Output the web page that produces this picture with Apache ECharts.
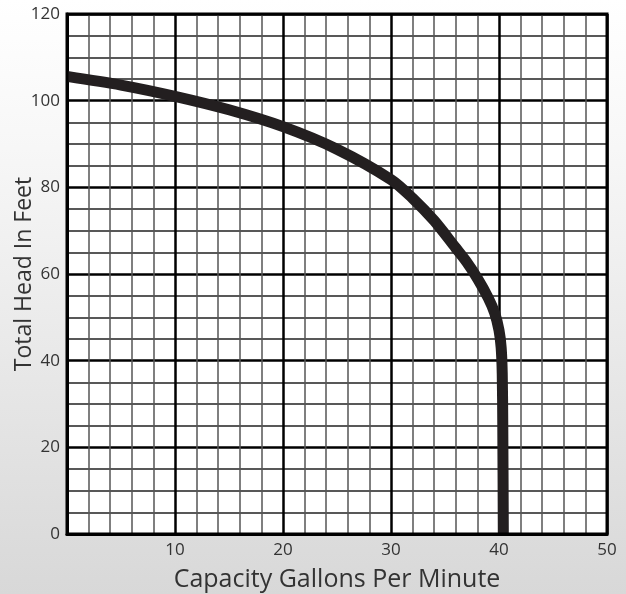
<!DOCTYPE html>
<html>
<head>
<meta charset="utf-8">
<script src="https://cdn.jsdelivr.net/npm/echarts@6/dist/echarts.min.js"></script>
<style>
html,body{margin:0;padding:0;}
#main{width:626px;height:594px;}
</style>
</head>
<body>
<div id="main"></div>
<script>
// pump curve
const flowGpm = [0, 5, 10, 15, 20, 25, 30, 32, 34, 36, 37, 38, 39, 39.6, 40, 40.2, 40.3, 40.35, 40.4];
const headFt  = [105.6, 103.6, 101, 97.9, 94, 88.8, 81.8, 77.5, 72.3, 66, 62.8, 59, 54.5, 51, 47, 43, 37, 25, 0];
const xTicks = [10, 20, 30, 40, 50];
const yTicks = [0, 20, 40, 60, 80, 100, 120];

const curve = flowGpm.map((x, i) => [x, headFt[i]]);

const myChart = echarts.init(document.getElementById('main'));
const labelFont = 'Open Sans';
const options = {
    animation: false,
    backgroundColor: new echarts.graphic.LinearGradient(0, 0, 0, 1, [
        {offset: 0, color: '#ffffff'},
        {offset: 0.25, color: '#f7f7f7'},
        {offset: 1, color: '#d8d8d8'}
    ]),
    grid: {
        left: 67, right: 19, top: 14, bottom: 60,
        outerBoundsMode: 'none',
        containLabel: false,
        show: true,
        backgroundColor: '#ffffff',
        borderWidth: 0
    },
    xAxis: {
        type: 'value',
        min: 0, max: 50, interval: 10,
        name: 'Capacity Gallons Per Minute',
        nameLocation: 'middle',
        nameGap: 33,
        nameMoveOverlap: false,
        nameTextStyle: {fontFamily: labelFont, fontSize: 25, color: '#333'},
        axisLine: {show: true, onZero: false, lineStyle: {color: '#000', width: 3}},
        axisTick: {show: false},
        axisLabel: {
            fontFamily: labelFont, fontSize: 17, color: '#333', margin: 8,
            formatter: v => xTicks.includes(v) ? String(v) : ''
        },
        splitLine: {show: true, lineStyle: {color: '#000', width: 2.5}},
        minorTick: {show: false, splitNumber: 5},
        minorSplitLine: {show: true, lineStyle: {color: '#555', width: 1.5}}
    },
    yAxis: {
        type: 'value',
        min: 0, max: 120, interval: 20,
        name: 'Total Head In Feet',
        nameLocation: 'middle',
        nameGap: 31,
        nameMoveOverlap: false,
        nameTextStyle: {fontFamily: labelFont, fontSize: 23, color: '#333'},
        axisLine: {show: true, lineStyle: {color: '#000', width: 3}},
        axisTick: {show: false},
        axisLabel: {
            fontFamily: labelFont, fontSize: 17, color: '#333', margin: 7,
            formatter: v => yTicks.includes(v) ? String(v) : ''
        },
        splitLine: {show: true, lineStyle: {color: '#000', width: 2.5}},
        minorTick: {show: false, splitNumber: 4},
        minorSplitLine: {show: true, lineStyle: {color: '#222', width: 1.5}}
    },
    graphic: [{
        // thick frame round the plot
        type: 'rect',
        shape: {x: 67, y: 14, width: 540, height: 520},
        style: {fill: 'none', stroke: '#000', lineWidth: 3},
        z: 100
    }],
    series: [{
        type: 'line',
        data: curve,
        smooth: 0.3,
        showSymbol: false,
        clip: true,
        lineStyle: {color: '#231f20', width: 11, cap: 'butt'},
        z: 10
    }]
};
myChart.setOption(options);
</script>
</body>
</html>
